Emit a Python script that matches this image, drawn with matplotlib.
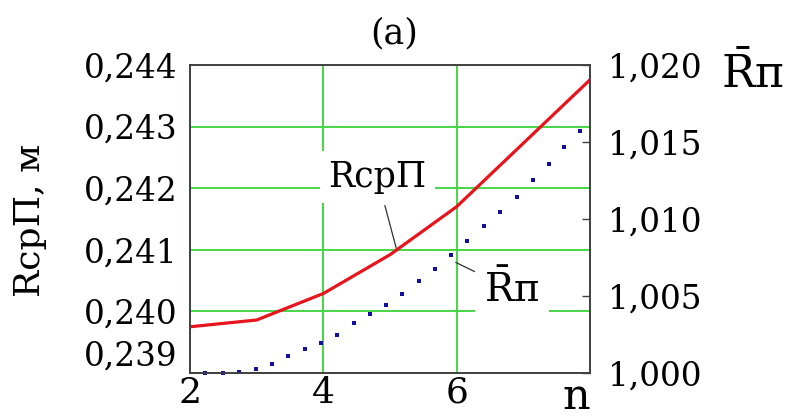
import matplotlib
matplotlib.use("Agg")
import matplotlib.pyplot as plt

# RcpП, м - по целым n
n = [2, 3, 4, 5, 6, 7, 8]
R_cp = [0.23975, 0.23986, 0.24029, 0.24092, 0.24170, 0.24273, 0.24376]

# относительный радиус, точечная кривая
n_dots = [2.23, 2.49, 2.74, 2.99, 3.23, 3.47, 3.72, 3.97, 4.21, 4.46, 4.70, 4.94,
          5.18, 5.43, 5.67, 5.92, 6.16, 6.41, 6.65, 6.90, 7.15, 7.39, 7.61, 7.85]
R_bar = [1.00002, 1.00002, 1.00008, 1.00024, 1.00058, 1.00110, 1.00154, 1.00193,
         1.00247, 1.00323, 1.00381, 1.00442, 1.00511, 1.00597, 1.00677, 1.00764,
         1.00859, 1.00955, 1.01047, 1.01145, 1.01253, 1.01359, 1.01466, 1.01574]

x_ticks = [2, 4, 6, 8]
x_labels = ['2', '4', '6', 'n']
left_ticks = [0.239, 0.240, 0.241, 0.242, 0.243, 0.244]
left_labels = ['0,239', '0,240', '0,241', '0,242', '0,243', '0,244']
right_ticks = [1.000, 1.005, 1.010, 1.015, 1.020]
right_labels = ['1,000', '1,005', '1,010', '1,015', '1,020']

plt.rcParams['font.family'] = 'DejaVu Serif'
plt.rcParams['mathtext.fontset'] = 'dejavuserif'

fig = plt.figure(figsize=(7.87, 4.18), dpi=100)
ax = fig.add_axes([0.2414, 0.1077, 0.5083, 0.7368])
ax2 = ax.twinx()

green = '#45d645'
ax.set_xlim(2, 8)
ax.set_ylim(0.239, 0.244)
ax2.set_ylim(1.000, 1.020)

ax.set_xticks(x_ticks)
ax.set_xticklabels(x_labels, fontsize=26)
ax.set_yticks(left_ticks)
ax.set_yticklabels(left_labels, fontsize=23.5)
ax2.set_yticks(right_ticks)
ax2.set_yticklabels(right_labels, fontsize=23.5)

ax.tick_params(axis='x', length=0, pad=2)
ax.tick_params(axis='y', length=0, pad=9)
ax2.tick_params(axis='y', direction='in', length=6, width=1, color='#404040', pad=13)

# "n" крупнее цифр и прижата к правому краю
lab_n = ax.get_xticklabels()[-1]
lab_n.set_fontsize(31)
lab_n.set_horizontalalignment('right')
ax.get_yticklabels()[0].set_verticalalignment('bottom')

ax.grid(True, color=green, linewidth=1.4)
for a in (ax, ax2):
    for s in a.spines.values():
        s.set_color('#404040')
        s.set_linewidth(1.2)

ax.plot(n, R_cp, color='#e8141c', linewidth=2.3, zorder=4)
ax2.plot(n_dots, R_bar, 's', color='#10109c', markersize=3.4, markeredgewidth=0,
         clip_on=False)

box = dict(boxstyle='square,pad=0.25', facecolor='white', edgecolor='none')
ax.annotate('RcpП', xy=(5.1, 0.24100), xytext=(4.81, 0.24218),
            fontsize=25, ha='center', va='center', bbox=box,
            arrowprops=dict(arrowstyle='-', color='#303030', lw=0.9,
                            shrinkA=2, shrinkB=0), zorder=3)
ax2.annotate(r'$\bar{\mathrm{R}}$п', xy=(5.93, 1.0073), xytext=(6.83, 1.0054),
             fontsize=28, ha='center', va='center', bbox=box,
             arrowprops=dict(arrowstyle='-', color='#303030', lw=0.9,
                             shrinkA=0, shrinkB=3))

fig.text(394 / 787, 1 - 33 / 418, '(a)', fontsize=25, ha='center', va='center')
fig.text(30 / 787, 1 - 220 / 418, 'RcpП, м', fontsize=26, rotation=90,
         ha='center', va='center')
fig.text(752 / 787, 1 - 74 / 418, r'$\bar{\mathrm{R}}$п', fontsize=32,
         ha='center', va='center')

fig.savefig('out.png', dpi=100, facecolor='white')
